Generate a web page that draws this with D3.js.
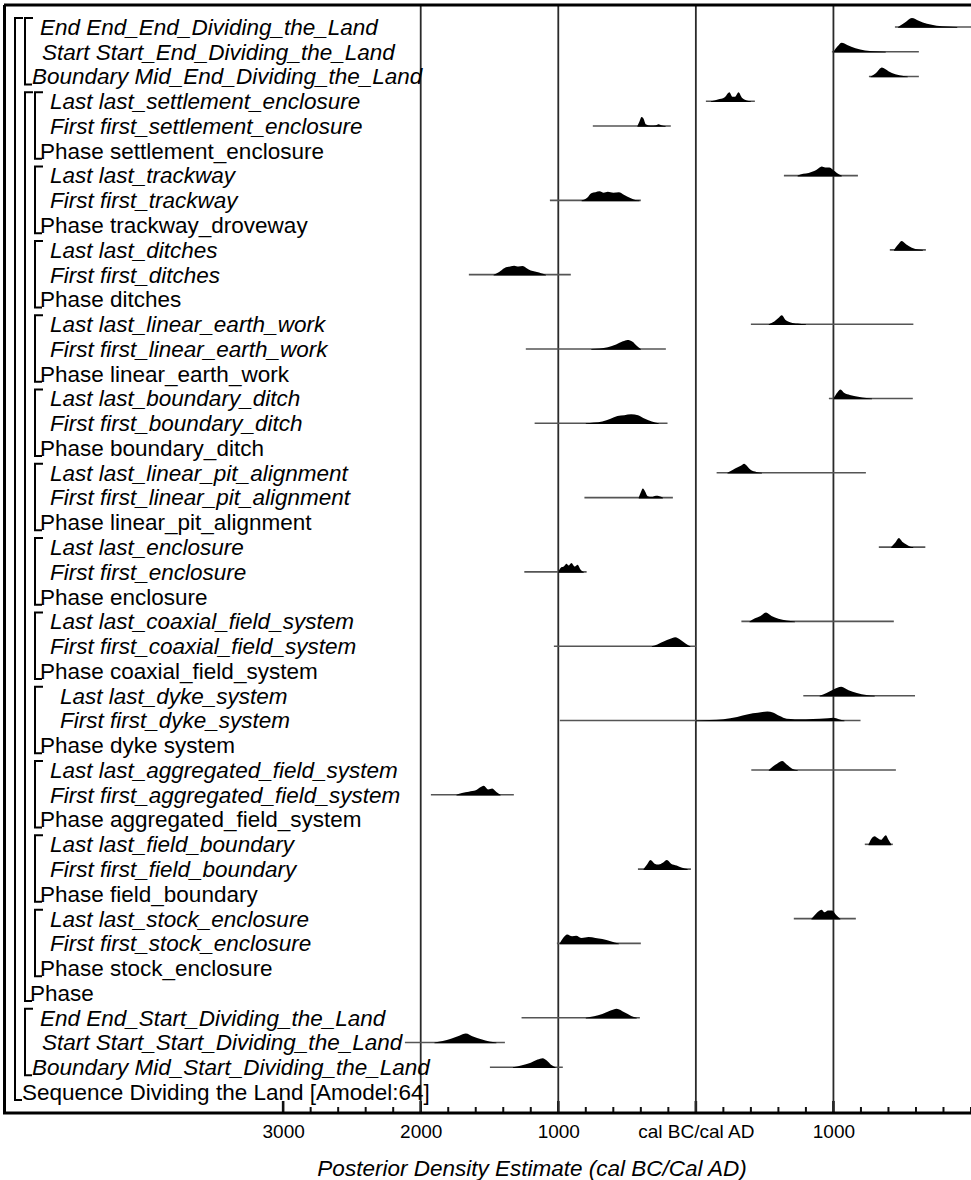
<!DOCTYPE html>
<html>
<head>
<meta charset="utf-8">
<script src="https://cdn.jsdelivr.net/npm/d3@7/dist/d3.min.js"></script>
<style>
body { margin: 0; background: #fff; }
svg { display: block; font-family: "Liberation Sans", Arial, sans-serif; }
</style>
</head>
<body>
<svg id="chart" width="971" height="1180"></svg>
<script>
// row labels, top to bottom
var labels = [
	"End End_End_Dividing_the_Land",
	"Start Start_End_Dividing_the_Land",
	"Boundary Mid_End_Dividing_the_Land",
	"Last last_settlement_enclosure",
	"First first_settlement_enclosure",
	"Phase settlement_enclosure",
	"Last last_trackway",
	"First first_trackway",
	"Phase trackway_droveway",
	"Last last_ditches",
	"First first_ditches",
	"Phase ditches",
	"Last last_linear_earth_work",
	"First first_linear_earth_work",
	"Phase linear_earth_work",
	"Last last_boundary_ditch",
	"First first_boundary_ditch",
	"Phase boundary_ditch",
	"Last last_linear_pit_alignment",
	"First first_linear_pit_alignment",
	"Phase linear_pit_alignment",
	"Last last_enclosure",
	"First first_enclosure",
	"Phase enclosure",
	"Last last_coaxial_field_system",
	"First first_coaxial_field_system",
	"Phase coaxial_field_system",
	"Last last_dyke_system",
	"First first_dyke_system",
	"Phase dyke system",
	"Last last_aggregated_field_system",
	"First first_aggregated_field_system",
	"Phase aggregated_field_system",
	"Last last_field_boundary",
	"First first_field_boundary",
	"Phase field_boundary",
	"Last last_stock_enclosure",
	"First first_stock_enclosure",
	"Phase stock_enclosure",
	"Phase",
	"End End_Start_Dividing_the_Land",
	"Start Start_Start_Dividing_the_Land",
	"Boundary Mid_Start_Dividing_the_Land",
	"Sequence Dividing the Land [Amodel:64]"
];

// kind of each row (sets indent and italics)
var kinds = [
	"trap", "trap2", "bound",
	"sub", "sub", "phase",
	"sub", "sub", "phase",
	"sub", "sub", "phase",
	"sub", "sub", "phase",
	"sub", "sub", "phase",
	"sub", "sub", "phase",
	"sub", "sub", "phase",
	"sub", "sub", "phase",
	"subw", "subw", "phase",
	"sub", "sub", "phase",
	"sub", "sub", "phase",
	"sub", "sub", "phase",
	"outer",
	"trap", "trap2", "bound",
	"seq"
];

// brackets: [first row, last row, nesting level]
var groups = [
	[0, 43, 0],
	[0, 2, 1],
	[3, 39, 1],
	[3, 5, 2], [6, 8, 2], [9, 11, 2], [12, 14, 2], [15, 17, 2], [18, 20, 2],
	[21, 23, 2], [24, 26, 2], [27, 29, 2], [30, 32, 2], [33, 35, 2], [36, 38, 2],
	[40, 42, 1]
];

// range line of each posterior (cal years, BC negative), null = no plot
var ranges = [
	[1447, 2000], [989, 1621], [1258, 1621],
	[73, 429], [-749, -182], null,
	[640, 1178], [-1061, -400], null,
	[1410, 1672], [-1650, -909], null,
	[400, 1581], [-1236, -218], null,
	[967, 1577], [-1172, -206], null,
	[151, 1236], [-810, -167], null,
	[1330, 1668], [-1247, -794], null,
	[331, 1439], [-1032, 0], null,
	[781, 1593], [-989, 1197], null,
	[403, 1454], [-1926, -1323], null,
	[1228, 1432], [-421, -36], null,
	[712, 1163], [-1010, -400], null,
	null,
	[-1267, -407], [-2115, -1388], [-1497, -967],
	null
];

// posterior densities: [year, relative probability]
var densities = [
	[[1470,0],[1520,0.5],[1570,1],[1620,0.7],[1680,0.35],[1750,0.15],[1830,0.05],[1900,0]],
	[[1000,0],[1030,0.6],[1060,1],[1100,0.75],[1160,0.4],[1230,0.15],[1300,0.05],[1380,0]],
	[[1270,0],[1310,0.4],[1352,1],[1400,0.6],[1450,0.25],[1510,0.05],[1540,0]],
	[[110,0],[160,0.2],[210,0.45],[244,1],[265,0.5],[285,0.5],[310,1],[335,0.4],[370,0.1],[400,0]],
	[[-425,0],[-410,0.5],[-395,1],[-380,0.8],[-365,0.2],[-330,0.05],[-290,0.1],[-270,0.2],[-250,0.08],[-220,0]],
	null,
	[[740,0],[780,0.2],[820,0.3],[860,0.5],[890,0.8],[916,1],[940,0.9],[970,0.9],[1000,0.6],[1025,0.3],[1060,0]],
	[[-830,0],[-790,0.3],[-760,0.8],[-730,0.9],[-700,1],[-670,0.85],[-640,0.95],[-600,0.85],[-560,0.9],[-520,0.6],[-480,0.3],[-440,0.05],[-410,0]],
	null,
	[[1440,0],[1470,0.6],[1497,1],[1530,0.6],[1570,0.25],[1620,0.05],[1650,0]],
	[[-1470,0],[-1430,0.3],[-1390,0.75],[-1350,0.9],[-1320,1],[-1290,0.9],[-1260,0.95],[-1230,0.7],[-1200,0.45],[-1170,0.35],[-1140,0.25],[-1110,0.1],[-1090,0]],
	null,
	[[530,0],[570,0.3],[600,0.7],[625,1],[650,0.5],[690,0.2],[740,0.08],[800,0]],
	[[-760,0],[-700,0.05],[-640,0.2],[-580,0.5],[-530,0.85],[-497,1],[-460,0.8],[-430,0.35],[-400,0]],
	null,
	[[1000,0],[1030,0.7],[1051,1],[1080,0.6],[1120,0.4],[1180,0.2],[1240,0.05],[1280,0]],
	[[-800,0],[-740,0.08],[-680,0.2],[-620,0.5],[-570,0.8],[-520,0.9],[-470,1],[-420,0.9],[-370,0.5],[-320,0.2],[-270,0]],
	null,
	[[230,0],[270,0.35],[300,0.6],[330,0.8],[350,1],[375,0.7],[400,0.3],[440,0.1],[480,0]],
	[[-415,0],[-400,0.6],[-385,1],[-370,0.7],[-350,0.15],[-320,0.08],[-290,0.2],[-265,0.15],[-240,0]],
	null,
	[[1420,0],[1450,0.5],[1476,1],[1500,0.6],[1530,0.3],[1560,0.05],[1580,0]],
	[[-1000,0],[-980,0.5],[-960,0.6],[-940,0.9],[-925,0.7],[-905,1],[-880,0.6],[-860,0.8],[-840,0.3],[-815,0]],
	null,
	[[390,0],[430,0.35],[470,0.6],[510,1],[550,0.6],[600,0.3],[660,0.1],[720,0]],
	[[-320,0],[-280,0.2],[-230,0.55],[-190,0.8],[-150,1],[-110,0.7],[-70,0.25],[-40,0]],
	null,
	[[900,0],[950,0.3],[1000,0.7],[1057,1],[1110,0.6],[1170,0.3],[1240,0.08],[1300,0]],
	[[0,0],[100,0.05],[200,0.15],[300,0.4],[380,0.7],[450,0.85],[520,1],[560,0.9],[610,0.5],[660,0.2],[720,0.15],[800,0.15],[900,0.2],[960,0.25],[1000,0.3],[1040,0.15],[1080,0]],
	null,
	[[530,0],[560,0.4],[590,0.7],[628,1],[660,0.6],[700,0.15],[740,0]],
	[[-1740,0],[-1700,0.2],[-1650,0.35],[-1600,0.5],[-1570,0.8],[-1542,1],[-1510,0.6],[-1480,0.7],[-1450,0.3],[-1420,0]],
	null,
	[[1255,0],[1275,0.6],[1300,0.9],[1320,0.7],[1345,0.5],[1365,0.8],[1381,1],[1400,0.5],[1420,0]],
	[[-380,0],[-355,0.5],[-330,1],[-300,0.6],[-270,0.5],[-240,0.7],[-210,1],[-180,0.6],[-140,0.4],[-100,0.15],[-60,0]],
	null,
	[[840,0],[870,0.5],[890,0.8],[915,1],[935,0.7],[960,0.9],[990,0.9],[1020,0.4],[1050,0]],
	[[-990,0],[-965,0.6],[-935,1],[-900,0.8],[-870,0.85],[-830,0.6],[-780,0.7],[-730,0.6],[-680,0.5],[-620,0.25],[-560,0]],
	null,
	null,
	[[-800,0],[-740,0.15],[-680,0.4],[-620,0.8],[-576,1],[-520,0.6],[-470,0.2],[-430,0]],
	[[-1900,0],[-1840,0.15],[-1780,0.4],[-1720,0.75],[-1672,1],[-1620,0.65],[-1560,0.35],[-1500,0.1],[-1450,0]],
	[[-1330,0],[-1270,0.2],[-1200,0.5],[-1150,0.85],[-1114,1],[-1080,0.7],[-1050,0.25],[-1020,0]],
	null
];

// axis
var majorTicks = [-3000, -2000, -1000, 0, 1000];
var minorTicks = d3.range(-3000, 2001, 200);
var gridYears = [-2000, -1000, 0, 1000];
var axisTitle = "Posterior Density Estimate (cal BC/Cal AD)";

var svg = d3.select("#chart");
var W = 971, frameTop = 5, axisY = 1113;

var x = d3.scaleLinear().domain([-5000, 2000]).range([8, 971]);
var y = d3.scaleLinear().domain([0, labels.length - 1]).range([27, 1092]);
var h = d3.scaleLinear().domain([0, 1]).range([0, 9]);

// indent per kind
var indent = { trap: 40, trap2: 42, bound: 32, sub: 50, subw: 60, phase: 40, outer: 30, seq: 22 };
var upright = { phase: 1, outer: 1, seq: 1 };
var levelX = [15, 25, 35];

// etichette dell'asse
var fmt = function(d) { return d == 0 ? "cal BC/cal AD" : Math.abs(d); };
var gAxis = svg.append("g").attr("class", "axis").attr("transform", "translate(0," + axisY + ")")
	.call(d3.axisBottom(x).tickValues(majorTicks).tickSize(0).tickPadding(12).tickFormat(fmt));
gAxis.select(".domain").remove();
gAxis.selectAll("text").attr("font-size", "19px").attr("fill", "#000")
	.attr("font-family", "'Liberation Sans', Arial, sans-serif");

// tacche rivolte verso l'alto
svg.selectAll(".tickmark").data(minorTicks).enter().append("line")
	.attr("class", "tickmark")
	.attr("x1", function(d) { return x(d); }).attr("x2", function(d) { return x(d); })
	.attr("y1", axisY)
	.attr("y2", function(d) { return majorTicks.indexOf(d) >= 0 ? axisY - 12 : axisY - 6; })
	.attr("stroke", "#111")
	.attr("stroke-width", function(d) { return majorTicks.indexOf(d) >= 0 ? 2.6 : 2; });

// griglia verticale
svg.selectAll(".grid").data(gridYears).enter().append("line")
	.attr("class", "grid")
	.attr("x1", function(d) { return x(d); }).attr("x2", function(d) { return x(d); })
	.attr("y1", frameTop).attr("y2", axisY)
	.attr("stroke", "#2a2a2a").attr("stroke-width", 1.8);

// cornice
svg.append("line").attr("x1", 4).attr("x2", W).attr("y1", frameTop).attr("y2", frameTop)
	.attr("stroke", "#000").attr("stroke-width", 3);
svg.append("line").attr("x1", 4.5).attr("x2", 4.5).attr("y1", frameTop).attr("y2", axisY)
	.attr("stroke", "#000").attr("stroke-width", 3);
svg.append("line").attr("x1", 3).attr("x2", W).attr("y1", axisY).attr("y2", axisY)
	.attr("stroke", "#000").attr("stroke-width", 3);

// parentesi
svg.selectAll(".bracket").data(groups).enter().append("path")
	.attr("class", "bracket")
	.attr("d", function(g) {
		var bx = levelX[g[2]], y0 = y(g[0]) - 9, y1 = y(g[1]) + 8;
		return "M" + (bx + 8) + "," + y0 + "H" + bx + "V" + y1 + "H" + (bx + 7);
	})
	.attr("fill", "none").attr("stroke", "#000").attr("stroke-width", 2);

// range lines
var rows = d3.range(labels.length);
svg.selectAll(".range").data(rows.filter(function(i) { return ranges[i]; })).enter().append("line")
	.attr("class", "range")
	.attr("x1", function(i) { return x(ranges[i][0]); })
	.attr("x2", function(i) { return x(ranges[i][1]); })
	.attr("y1", function(i) { return y(i); }).attr("y2", function(i) { return y(i); })
	.attr("stroke", "#555").attr("stroke-width", 1.6);

// densities
svg.selectAll(".dens").data(rows.filter(function(i) { return densities[i]; })).enter().append("path")
	.attr("class", "dens")
	.attr("d", function(i) {
		var area = d3.area()
			.x(function(p) { return x(p[0]); })
			.y0(y(i) + 0.8)
			.y1(function(p) { return y(i) - h(p[1]); })
			.curve(d3.curveMonotoneX);
		return area(densities[i]);
	})
	.attr("fill", "#000");

// labels
svg.selectAll(".lab").data(rows).enter().append("text")
	.attr("class", "lab")
	.attr("x", function(i) { return indent[kinds[i]]; })
	.attr("y", function(i) { return y(i); })
	.attr("dy", "0.35em")
	.attr("font-size", "22.5px")
	.attr("font-style", function(i) { return upright[kinds[i]] ? "normal" : "italic"; })
	.attr("fill", "#000")
	.text(function(i) { return labels[i]; });

svg.append("text")
	.attr("x", 532).attr("y", 1176)
	.attr("text-anchor", "middle")
	.attr("font-size", "22.5px").attr("font-style", "italic").attr("fill", "#000")
	.text(axisTitle);
</script>
</body>
</html>
